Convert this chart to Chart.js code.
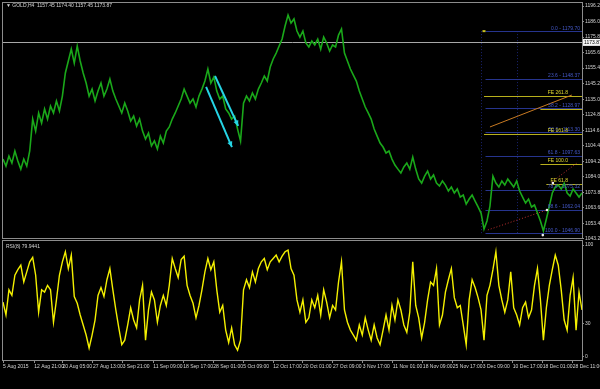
<!DOCTYPE html>
<html>
<head>
<meta charset="utf-8">
<title>GOLD,H4</title>
<script src="https://cdn.jsdelivr.net/npm/chart.js@4.4.0/dist/chart.umd.min.js"></script>
<style>
  html, body { margin: 0; padding: 0; background: #000; }
  #wrap { position: relative; width: 600px; height: 389px; background: #000; overflow: hidden; }
  #priceBox { position: absolute; left: 0; top: 0; width: 600px; height: 244px; z-index: 2; }
  #rsiBox { position: absolute; left: 0; top: 240px; width: 600px; height: 149px; z-index: 1; }
</style>
</head>
<body>
<div id="wrap">
  <div id="rsiBox"><canvas id="rsiChart" width="600" height="149"></canvas></div>
  <div id="priceBox"><canvas id="priceChart" width="600" height="244"></canvas></div>
</div>
<script>
// ---- data ----
const priceClose = [
  1095.6, 1091.0, 1097.6, 1093.0, 1100.9, 1094.3, 1089.0, 1095.6, 1091.0, 1100.9,
  1121.9, 1114.0, 1125.9, 1119.3, 1128.5, 1121.9, 1130.5, 1125.9, 1133.8, 1127.2,
  1137.0, 1152.2, 1160.1, 1167.9, 1158.7, 1169.9, 1160.1, 1152.2, 1145.6, 1137.0,
  1141.6, 1133.8, 1140.3, 1145.6, 1137.0, 1141.6, 1148.2, 1140.3, 1135.1, 1130.5,
  1125.9, 1132.4, 1127.2, 1120.6, 1123.9, 1117.3, 1121.9, 1114.0, 1108.8, 1112.7,
  1104.2, 1107.5, 1102.2, 1110.7, 1106.1, 1114.0, 1116.7, 1121.9, 1125.9, 1130.5,
  1135.1, 1141.6, 1137.0, 1132.4, 1135.1, 1129.8, 1137.0, 1141.6, 1146.9, 1154.8,
  1145.6, 1149.5, 1140.3, 1135.1, 1137.0, 1128.5, 1125.9, 1121.9, 1123.9, 1115.3,
  1107.5, 1132.4, 1137.0, 1133.8, 1139.0, 1135.1, 1141.6, 1145.6, 1150.2, 1146.9,
  1156.1, 1161.4, 1165.3, 1169.9, 1174.5, 1183.1, 1190.3, 1185.0, 1187.7, 1179.8,
  1175.8, 1179.8, 1171.9, 1169.3, 1173.2, 1170.6, 1174.5, 1167.9, 1175.8, 1171.9,
  1166.6, 1170.6, 1169.3, 1177.1, 1181.1, 1165.3, 1160.1, 1154.8, 1150.8, 1146.9,
  1140.3, 1135.1, 1129.8, 1125.9, 1121.9, 1115.3, 1110.7, 1106.1, 1103.5, 1099.6,
  1100.9, 1095.6, 1091.7, 1089.0, 1086.4, 1090.4, 1093.0, 1089.0, 1096.9, 1089.0,
  1082.5, 1079.8, 1084.4, 1087.7, 1082.5, 1085.1, 1079.8, 1077.9, 1081.2, 1078.5,
  1074.6, 1077.2, 1073.3, 1075.9, 1070.6, 1071.9, 1066.0, 1069.3, 1071.9, 1068.0,
  1064.1, 1060.1, 1049.6, 1054.9, 1064.7, 1084.4, 1079.8, 1077.2, 1081.2, 1078.5,
  1082.5, 1079.8, 1077.2, 1081.2, 1074.6, 1070.6, 1066.7, 1069.3, 1064.1, 1065.4,
  1060.1, 1054.9, 1048.3, 1056.2, 1064.7, 1073.3, 1077.2, 1078.5, 1075.9, 1079.8,
  1073.3, 1071.3, 1075.9, 1073.3, 1070.6, 1073.3
];

const rsiValues = [
  49, 37.5, 60, 55, 73, 78, 82, 67, 76, 85,
  89, 73, 40, 60, 58, 64, 60, 31, 51, 73,
  85, 94, 79, 91, 54, 48, 37.5, 28.6, 19.6, 8,
  19.6, 33, 55, 62, 54, 69, 79, 60, 42, 26,
  11, 15, 28.6, 44, 33, 26, 51, 64, 15, 42,
  58, 51, 31, 46, 55, 46, 64, 88, 79, 71,
  87, 90, 64, 55, 48, 35, 46, 60, 76, 88,
  78, 85, 60, 40, 46, 24, 13, 26, 11, 6,
  15, 60, 69, 62, 76, 67, 79, 85, 88, 78,
  85, 88, 91, 85, 90, 94, 95.5, 79, 73, 51,
  40, 51, 31, 35, 51, 44, 55, 37.5, 60, 49,
  35, 46, 42, 67, 85, 42, 31, 24, 19.6, 15,
  28.6, 19.6, 35, 24, 15, 28.6, 17, 11, 24, 37.5,
  24, 46, 33, 51, 42, 28.6, 22, 40, 85, 46,
  35, 17, 31, 51, 67, 64, 79, 28.6, 37.5, 58,
  69, 79, 53, 44, 46, 28.6, 11, 51, 69, 62,
  53, 42, 15, 55, 64, 78, 94, 64, 51, 40,
  51, 76, 44, 37.5, 28.6, 44, 49, 35, 42, 64,
  79, 51, 15, 44, 64, 78, 91, 82, 60, 33,
  24, 55, 71, 24, 58, 42
];

const priceTicks = [1196.2, 1186.0, 1175.8, 1165.6, 1155.4, 1145.2, 1135.0, 1124.8,
                    1114.6, 1104.4, 1094.2, 1084.0, 1073.8, 1063.6, 1053.4, 1043.2];
const rsiTicks = [0, 30, 100];

const dateLabels = ['5 Aug 2015', '12 Aug 21:00', '20 Aug 05:00', '27 Aug 13:00', '3 Sep 21:00',
  '11 Sep 09:00', '18 Sep 17:00', '28 Sep 01:00', '5 Oct 09:00', '12 Oct 17:00',
  '20 Oct 01:00', '27 Oct 09:00', '3 Nov 17:00', '11 Nov 01:00', '18 Nov 09:00',
  '25 Nov 17:00', '3 Dec 09:00', '10 Dec 17:00', '18 Dec 01:00', '28 Dec 11:00'];
const dateTickIndex = [0, 10.5, 20, 30.3, 40.3, 50.6, 60.7, 70.8, 80.9, 91,
  101, 111.1, 121.2, 131.3, 141.4, 151.5, 161.6, 171.7, 181.8, 191.9];

const titleText = '\u25BC GOLD,H4  1157.45 1174.40 1157.45 1173.87';
const rsiTitle = 'RSI(8) 79.9441';
const bidPrice = 1172.3;
const bidLabel = '1173.87';

// fibonacci retracement (blue) and expansion (yellow)
const fibNames = ['0.0 - 1179.70', '23.6 - 1148.37', '38.2 - 1128.97', '50.0 - 1113.30',
                  '61.8 - 1097.63', '78.6 - 1075.32', '88.6 - 1062.04', '100.0 - 1046.90'];
const fibPrices = [1179.70, 1148.37, 1128.97, 1113.30, 1097.63, 1075.32, 1062.04, 1046.90];
const fibStart = 162.5;
const fibGuides = [161, 173];
const feNames = ['FE 261.8', '', 'FE 161.8', 'FE 100.0', 'FE 61.8'];
const fePrices = [1137.0, 1128.2, 1112.0, 1092.4, 1079.2];
const feStart = [162, 181, 162, 181, 183];

// drawn objects: [x1, price1, x2, price2]
const cyanArrows = [[71.4, 1150.2, 79.2, 1117.4], [68.4, 1143.0, 77.1, 1103.5]];
const orangeLine = [164, 1116.7, 191.6, 1137.7];
const redDotted = [[163.3, 1049.0, 183.2, 1062.1], [184.8, 1080.5, 193.3, 1093.0]];
const whiteDots = [[185.2, 1079.9], [183.2, 1062.1], [181.8, 1045.6]];

const FONT = '"Liberation Sans", Arial, sans-serif';
const FRAME = '#8c8c8c';
const TEXT = '#d4d4d4';

function line(ctx, x1, y1, x2, y2) {
    ctx.beginPath();
    ctx.moveTo(x1, y1);
    ctx.lineTo(x2, y2);
    ctx.stroke();
}

function drawArrow(ctx, x1, y1, x2, y2, color) {
    ctx.strokeStyle = color;
    ctx.fillStyle = color;
    ctx.lineWidth = 2;
    line(ctx, x1, y1, x2, y2);
    const ang = Math.atan2(y2 - y1, x2 - x1);
    ctx.beginPath();
    ctx.moveTo(x2, y2);
    ctx.lineTo(x2 - 6 * Math.cos(ang - 0.45), y2 - 6 * Math.sin(ang - 0.45));
    ctx.lineTo(x2 - 6 * Math.cos(ang + 0.45), y2 - 6 * Math.sin(ang + 0.45));
    ctx.closePath();
    ctx.fill();
}

function drawFrame(ctx, a) {
    ctx.strokeStyle = FRAME;
    ctx.lineWidth = 1;
    ctx.strokeRect(Math.round(a.left) - 0.5, Math.round(a.top) - 0.5,
        Math.round(a.right - a.left) + 1, Math.round(a.bottom - a.top) + 1);
}

// price panel extras
const priceOverlay = {
    id: 'priceOverlay',
    beforeDatasetsDraw(chart) {
        const { ctx, chartArea: a, scales: { x, y } } = chart;
        ctx.save();
        ctx.beginPath();
        ctx.rect(a.left, a.top, a.right - a.left, a.bottom - a.top);
        ctx.clip();

        // bid line
        ctx.strokeStyle = '#a8a8a8';
        ctx.lineWidth = 1;
        const by = Math.round(y.getPixelForValue(bidPrice)) + 0.5;
        line(ctx, a.left, by, a.right, by);

        // fib guides
        ctx.strokeStyle = '#1a2470';
        ctx.setLineDash([1, 2]);
        fibGuides.forEach(function(g) {
            const gx = Math.round(x.getPixelForValue(g)) + 0.5;
            line(ctx, gx, y.getPixelForValue(fibPrices[0]), gx, y.getPixelForValue(fibPrices[fibPrices.length - 1]));
        });
        ctx.setLineDash([]);

        // fib levels
        ctx.strokeStyle = '#26348e';
        fibPrices.forEach(function(p) {
            const py = Math.round(y.getPixelForValue(p)) + 0.5;
            line(ctx, x.getPixelForValue(fibStart), py, a.right, py);
        });

        // expansion levels
        ctx.strokeStyle = '#b8b01c';
        fePrices.forEach(function(p, i) {
            const py = Math.round(y.getPixelForValue(p)) + 0.5;
            line(ctx, x.getPixelForValue(feStart[i]), py, a.right, py);
        });

        // trend line
        ctx.strokeStyle = '#c87a22';
        line(ctx, x.getPixelForValue(orangeLine[0]), y.getPixelForValue(orangeLine[1]),
            x.getPixelForValue(orangeLine[2]), y.getPixelForValue(orangeLine[3]));

        // red dotted
        ctx.strokeStyle = '#c03030';
        ctx.setLineDash([1, 2]);
        redDotted.forEach(function(r) {
            line(ctx, x.getPixelForValue(r[0]), y.getPixelForValue(r[1]),
                x.getPixelForValue(r[2]), y.getPixelForValue(r[3]));
        });
        ctx.setLineDash([]);
        ctx.restore();
    },
    afterDraw(chart) {
        const { ctx, chartArea: a, scales: { x, y } } = chart;
        ctx.save();

        // arrows
        cyanArrows.forEach(function(r) {
            drawArrow(ctx, x.getPixelForValue(r[0]), y.getPixelForValue(r[1]),
                x.getPixelForValue(r[2]), y.getPixelForValue(r[3]), '#26d4e4');
        });

        // dots
        ctx.fillStyle = '#f0f0f0';
        whiteDots.forEach(function(d) {
            ctx.beginPath();
            ctx.arc(x.getPixelForValue(d[0]), y.getPixelForValue(d[1]), 1.3, 0, Math.PI * 2);
            ctx.fill();
        });
        ctx.fillStyle = '#c8c020';
        ctx.fillRect(x.getPixelForValue(fibStart) - 3, y.getPixelForValue(fibPrices[0]) - 1, 3, 2);

        // level labels
        ctx.font = '5px ' + FONT;
        ctx.textAlign = 'right';
        ctx.textBaseline = 'bottom';
        ctx.fillStyle = '#4458c8';
        fibPrices.forEach(function(p, i) {
            ctx.fillText(fibNames[i], a.right - 2, y.getPixelForValue(p) - 0.5);
        });
        ctx.fillStyle = '#e0d830';
        fePrices.forEach(function(p, i) {
            if (feNames[i]) ctx.fillText(feNames[i], a.right - 14, y.getPixelForValue(p) - 0.5);
        });

        // title
        ctx.textAlign = 'left';
        ctx.textBaseline = 'middle';
        ctx.fillStyle = TEXT;
        ctx.fillText(titleText, a.left + 3, a.top + 3);

        drawFrame(ctx, a);

        // bid price label on axis
        const by = y.getPixelForValue(bidPrice);
        ctx.fillStyle = '#f4f4f4';
        ctx.fillRect(a.right + 1, by - 3.5, 600 - a.right - 1, 7);
        ctx.fillStyle = '#000';
        ctx.fillText(bidLabel, a.right + 2, by);
        ctx.restore();
    }
};

// rsi panel extras
const rsiOverlay = {
    id: 'rsiOverlay',
    afterDraw(chart) {
        const { ctx, chartArea: a } = chart;
        ctx.save();
        ctx.font = '5px ' + FONT;
        ctx.textAlign = 'left';
        ctx.textBaseline = 'middle';
        ctx.fillStyle = TEXT;
        ctx.fillText(rsiTitle, a.left + 3, a.top + 6);
        drawFrame(ctx, a);
        ctx.restore();
    }
};

Chart.defaults.font.family = FONT;
Chart.defaults.animation = false;

function noPad(s) {
    s.paddingTop = 0;
    s.paddingBottom = 0;
    s.paddingLeft = 0;
    s.paddingRight = 0;
}

// ---- price chart ----
new Chart(document.getElementById('priceChart'), {
    type: 'line',
    data: {
        datasets: [{
            data: priceClose.map(function(v, i) { return { x: i, y: v }; }),
            borderColor: '#1aa81a',
            borderWidth: 1.6,
            pointRadius: 0,
            tension: 0
        }]
    },
    options: {
        responsive: false,
        events: [],
        layout: { padding: { left: 3, top: 3, bottom: 6, right: 0 } },
        plugins: { legend: { display: false }, tooltip: { enabled: false } },
        scales: {
            x: { type: 'linear', min: 0, max: 195, display: false },
            y: {
                position: 'right',
                min: 1043.7,
                max: 1198.2,
                afterFit: function(s) { s.width = 18; noPad(s); },
                afterBuildTicks: function(s) { s.ticks = priceTicks.map(function(v) { return { value: v }; }); },
                ticks: {
                    color: TEXT,
                    font: { size: 5 },
                    padding: 1,
                    autoSkip: false,
                    callback: function(v) { return Number(v).toFixed(1); }
                },
                grid: { drawOnChartArea: false, color: FRAME, tickLength: 2 },
                border: { display: false }
            }
        }
    },
    plugins: [priceOverlay]
});

// ---- rsi chart ----
new Chart(document.getElementById('rsiChart'), {
    type: 'line',
    data: {
        datasets: [{
            data: rsiValues.map(function(v, i) { return { x: i, y: v }; }),
            borderColor: '#f4f000',
            borderWidth: 1.4,
            pointRadius: 0,
            tension: 0
        }]
    },
    options: {
        responsive: false,
        events: [],
        layout: { padding: { left: 3, top: 1, bottom: 0, right: 0 } },
        plugins: { legend: { display: false }, tooltip: { enabled: false } },
        scales: {
            x: {
                type: 'linear',
                min: 0,
                max: 195,
                afterFit: function(s) { s.height = 29; noPad(s); },
                afterBuildTicks: function(s) { s.ticks = dateTickIndex.map(function(v) { return { value: v }; }); },
                ticks: {
                    color: TEXT,
                    font: { size: 5 },
                    align: 'start',
                    maxRotation: 0,
                    autoSkip: false,
                    padding: 1,
                    callback: function(v, i) { return dateLabels[i]; }
                },
                grid: { drawOnChartArea: false, color: FRAME, tickLength: 3 },
                border: { display: false }
            },
            y: {
                position: 'right',
                min: -2.7,
                max: 103.6,
                afterFit: function(s) { s.width = 18; noPad(s); },
                afterBuildTicks: function(s) { s.ticks = rsiTicks.map(function(v) { return { value: v }; }); },
                ticks: { color: TEXT, font: { size: 5 }, padding: 1, autoSkip: false },
                grid: { drawOnChartArea: false, color: FRAME, tickLength: 2 },
                border: { display: false }
            }
        }
    },
    plugins: [rsiOverlay]
});
</script>
</body>
</html>
